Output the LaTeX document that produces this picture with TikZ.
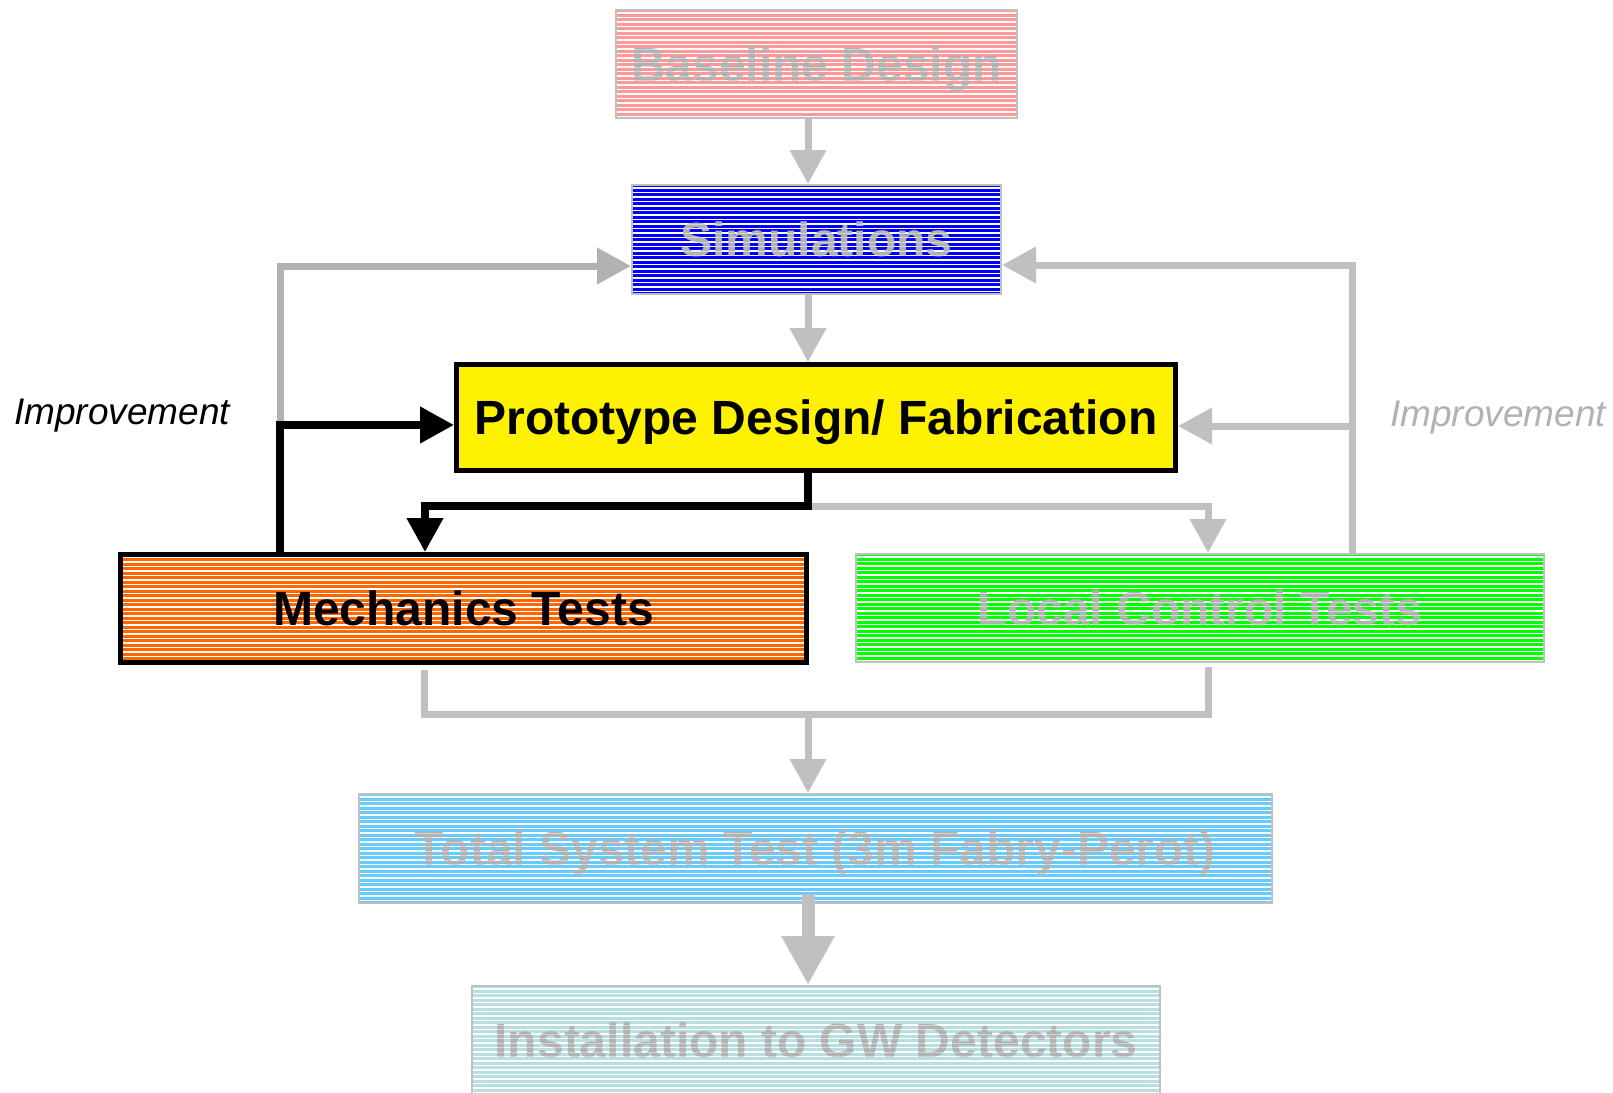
\documentclass[tikz,border=0pt]{standalone}
\usepackage{fontspec}
\setmainfont{Liberation Sans}
\usetikzlibrary{arrows.meta}
\definecolor{txtgray}{HTML}{B2B2B2}
\definecolor{lngray}{HTML}{C0C0C0}
\definecolor{lngrayd}{HTML}{B2B2B2}
\definecolor{cbase}{HTML}{FF9999}
\definecolor{csim}{HTML}{0000FF}
\definecolor{cmech}{HTML}{FF6600}
\definecolor{cloc}{HTML}{00FF00}
\definecolor{ctot}{HTML}{66CCFF}
\definecolor{cinst}{HTML}{B7DFE2}
\newcommand\stripeover[1]{%
  \begin{scope}
  \clip ([shift={(2pt,-2pt)}]#1.north west) rectangle ([shift={(-2pt,2pt)}]#1.south east);
  \foreach \k in {4,8.5,...,130}{\draw[white,opacity=0.45,line width=1pt] ([yshift=-\k pt]#1.north west) -- ([yshift=-\k pt]#1.north east);}
  \end{scope}}
\tikzset{
 stripes/.style={path picture={\foreach \k in {3,7.5,...,130}{\draw[white,line width=1.1pt] ([yshift=-\k pt]path picture bounding box.north west) -- ([yshift=-\k pt]path picture bounding box.north east);}}},
 box/.style={draw=lngray, line width=2pt, inner sep=0pt, text height=34pt, text depth=0pt, font=\fontsize{48}{50}\selectfont\bfseries},
 graybox/.style={box, text=txtgray, stripes},
 blackbox/.style={box, draw=black, line width=5pt, text=black},
 gline/.style={draw=lngray, line width=7pt, line join=miter},
 garrow/.style={gline, -{Triangle[width=35pt,length=34pt]}},
 barrow/.style={draw=black, line width=7.5pt, line join=miter, -{Triangle[width=35pt,length=34pt]}},
 lab/.style={font=\fontsize{37}{40}\selectfont\itshape, inner sep=0pt}
}
\begin{document}
\begin{tikzpicture}[x=1pt,y=-1pt]
\useasboundingbox (0,0) rectangle (1613,1092);
% boxes
\node[graybox, fill=cbase, minimum width=401pt, minimum height=108pt] (base) at (816.5,64) {Baseline Design};
\node[graybox, fill=csim, minimum width=369pt, minimum height=109pt] (sim) at (816.5,239.5) {Simulations};
\node[blackbox, fill=yellow, minimum width=719pt, minimum height=106pt] (proto) at (816,417.5) {Prototype Design/ Fabrication};
\node[blackbox, fill=cmech, stripes, minimum width=686pt, minimum height=108pt] (mech) at (463.5,608.5) {Mechanics Tests};
\node[graybox, fill=cloc, minimum width=688pt, minimum height=108pt] (loc) at (1200,608) {Local Control Tests};
\node[graybox, fill=ctot, minimum width=913pt, minimum height=109pt] (tot) at (815.5,848.5) {Total System Test (3m Fabry-Perot)};
\node[graybox, fill=cinst, minimum width=688pt, minimum height=108pt] (inst) at (816,1040) {Installation to GW Detectors};
\stripeover{base}
\stripeover{sim}
\stripeover{loc}
\stripeover{tot}
\stripeover{inst}
% labels
\node[lab] (imp1) at (122,416) {Improvement};
\node[lab, text=txtgray] (imp2) at (1498,418) {Improvement};
% coordinates
\coordinate (cx) at (808,0);
\coordinate (lb) at (280,425);
\coordinate (lt) at (280,266);
\coordinate (rt) at (1352,265);
\coordinate (rm) at (1352,426);
\coordinate (sp) at (808,506);
\coordinate (ml) at (425,506);
\coordinate (lr) at (1208,506);
\coordinate (mb) at (424,714);
\coordinate (lb2) at (1208,714);
% connectors
\draw[garrow] (base.south -| cx) -- (sim.north -| cx);
\draw[garrow] (sim.south -| cx) -- (proto.north -| cx);
\draw[garrow, draw=lngrayd] (lb) -- (lt) -- (sim.west |- lt);
\draw[barrow] (mech.north -| lb) -- (lb) -- (proto.west |- lb);
\draw[garrow] (loc.north -| rt) -- (rt) -- (sim.east |- rt);
\draw[garrow] (rm) -- (proto.east |- rm);
\draw[garrow] (sp) -- (lr) -- (loc.north -| lr);
\draw[barrow] (proto.south -| cx) -- (sp) -- (ml) -- (mech.north -| ml);
\draw[gline, shorten <=5pt, shorten >=4pt] (mech.south -| mb) -- (mb) -- (lb2) -- (loc.south -| lb2);
\draw[garrow] (mb -| cx) -- (tot.north -| cx);
\draw[gline, line width=13pt, shorten <=-10pt, -{Triangle[width=50pt,length=49pt]}] (tot.south -| cx) -- (inst.north -| cx);
\end{tikzpicture}
\end{document}
